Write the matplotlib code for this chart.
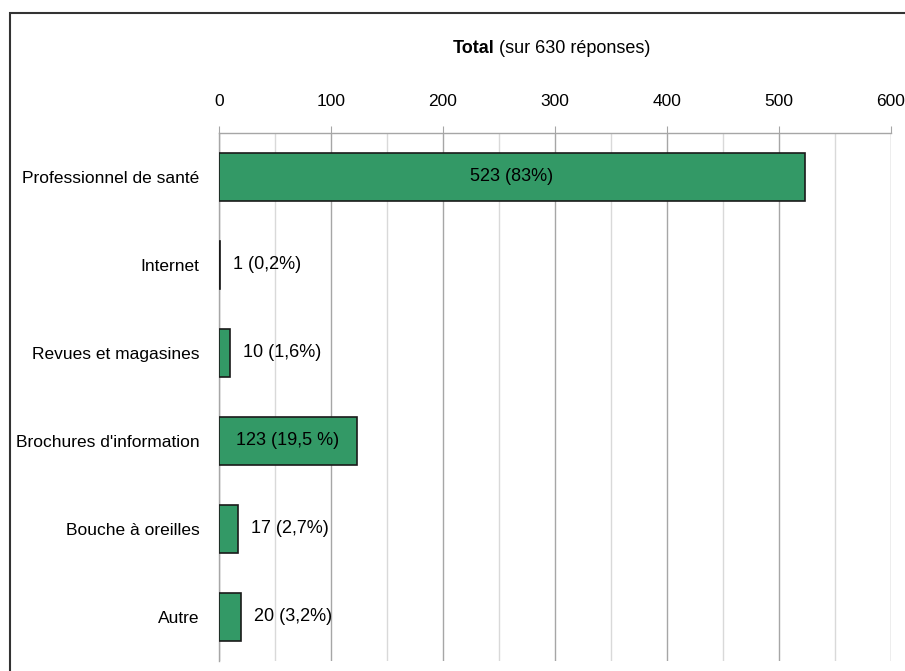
import matplotlib
matplotlib.use("Agg")
import matplotlib.pyplot as plt
from matplotlib.patches import Rectangle
from matplotlib.ticker import MultipleLocator

plt.rcParams["font.family"] = ["Liberation Sans Narrow", "Liberation Sans", "DejaVu Sans"]

categories = [
    "Professionnel de santé",
    "Internet",
    "Revues et magasines",
    "Brochures d'information",
    "Bouche à oreilles",
    "Autre",
]
counts = [523, 1, 10, 123, 17, 20]
value_labels = ["523 (83%)", "1 (0,2%)", "10 (1,6%)", "123 (19,5 %)", "17 (2,7%)", "20 (3,2%)"]
inside = [True, False, False, True, False, False]

BAR_COLOR = "#339966"
GRID_MAJOR = "#a6a6a6"
GRID_MINOR = "#d9d9d9"
FS = 12.5

fig = plt.figure(figsize=(9.05, 6.71), dpi=100)
ax = fig.add_axes([0.242, 0.015, 0.7425, 0.787])

y = list(range(len(categories)))
ax.barh(y, counts, height=0.55, color=BAR_COLOR, edgecolor="#1a1a1a", linewidth=1.2, zorder=3)

for yi, val, lab, ins in zip(y, counts, value_labels, inside):
    if ins:
        ax.text(val / 2, yi, lab, ha="center", va="center", fontsize=13, color="black", zorder=4)
    else:
        ax.annotate(lab, (val, yi), xytext=(9, 0), textcoords="offset points",
                    ha="left", va="center", fontsize=13, color="black", zorder=4)

ax.set_xlim(0, 600)
ax.set_ylim(len(categories) - 0.5, -0.5)
ax.set_yticks(y)
ax.set_yticklabels(categories, fontsize=FS)
ax.tick_params(axis="y", length=0, pad=14)

ax.xaxis.set_major_locator(MultipleLocator(100))
ax.xaxis.set_minor_locator(MultipleLocator(50))
ax.xaxis.tick_top()
ax.tick_params(axis="x", which="major", top=True, bottom=False, direction="out",
               length=5, color=GRID_MAJOR, labelsize=FS, pad=12)
ax.tick_params(axis="x", which="minor", top=False, bottom=False)

ax.grid(axis="x", which="major", color=GRID_MAJOR, linewidth=1.0, zorder=0)
ax.grid(axis="x", which="minor", color=GRID_MINOR, linewidth=1.0, zorder=0)
ax.set_axisbelow(True)

for side in ("right", "bottom"):
    ax.spines[side].set_visible(False)
for side in ("top", "left"):
    ax.spines[side].set_color(GRID_MAJOR)
    ax.spines[side].set_linewidth(1.0)

# titre en deux parties : "Total" en gras
fig.text(0.546, 0.928, "Total", ha="right", va="center", fontsize=13, fontweight="bold")
fig.text(0.546, 0.928, " (sur 630 réponses)", ha="left", va="center", fontsize=13)

# cadre autour du graphique
fig.patches.append(Rectangle((0.011, -0.05), 1.2, 0.0306 + 1.0, transform=fig.transFigure,
                             fill=False, edgecolor="#333333", linewidth=1.5))

fig.savefig("out.png", dpi=100)
